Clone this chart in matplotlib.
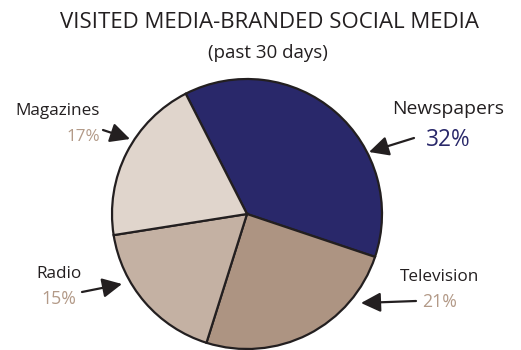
import matplotlib.pyplot as plt

plt.rcParams['font.family'] = ['Open Sans', 'DejaVu Sans']

# data
categories = ['Newspapers', 'Television', 'Radio', 'Magazines']
values = [32, 21, 15, 17]
pct_labels = ['32%', '21%', '15%', '17%']
colors = ['#29286a', '#ad9482', '#c4b1a3', '#e0d5cc']
pct_colors = ['#29286a', '#b39a88', '#b39a88', '#b39a88']

W, H = 521, 350


def px(x, y):
    """pixel (from top-left) to figure fraction"""
    return x / W, 1 - y / H


fig = plt.figure(figsize=(W / 100, H / 100), dpi=100)

cx, cy, r = 247, 214, 135
lim = 1.01
ax = fig.add_axes([(cx - r * lim) / W, (H - cy - r * lim) / H,
                   2 * r * lim / W, 2 * r * lim / H])
wedges, _ = ax.pie(values, colors=colors, startangle=117, counterclock=False,
                   wedgeprops=dict(edgecolor='#231f20', linewidth=1.6))
for w in wedges:
    w.set_clip_on(False)
ax.set_xlim(-lim, lim)
ax.set_ylim(-lim, lim)
ax.set_aspect('equal')
ax.axis('off')

fig.text(*px(269, 22), 'VISITED MEDIA-BRANDED SOCIAL MEDIA', ha='center', va='center',
         fontsize=16, color='#231f20')
fig.text(*px(268, 53), '(past 30 days)', ha='center', va='center',
         fontsize=13.5, color='#231f20')

# label positions: (name x, name y, pct x, pct y, ha, arrow start, arrow tip, name size, pct size)
layout = {
    'Newspapers': (448, 109, 448, 140, 'center', (414, 138), (369, 152), 13.9, 16.3),
    'Television': (440, 277, 440, 302, 'center', (416, 301), (361, 303), 12.3, 12.8),
    'Radio': (59, 274, 59, 299, 'center', (82, 292), (122, 284), 12.3, 12.8),
    'Magazines': (100, 111, 100, 137, 'right', (103, 130), (130, 139), 12.3, 12.3),
}

for cat, pct, pc in zip(categories, pct_labels, pct_colors):
    nx, ny, qx, qy, ha, a0, a1, fs1, fs2 = layout[cat]
    fig.text(*px(nx, ny), cat, ha=ha, va='center', fontsize=fs1, color='#231f20')
    fig.text(*px(qx, qy), pct, ha=ha, va='center', fontsize=fs2, color=pc)
    fig.add_artist(plt.matplotlib.patches.FancyArrowPatch(
        px(*a0), px(*a1), transform=fig.transFigure,
        arrowstyle='-|>,head_length=7,head_width=3.5', mutation_scale=1.7,
        color='#231f20', linewidth=1.6, shrinkA=0, shrinkB=0))

fig.savefig('out.png', dpi=100)
